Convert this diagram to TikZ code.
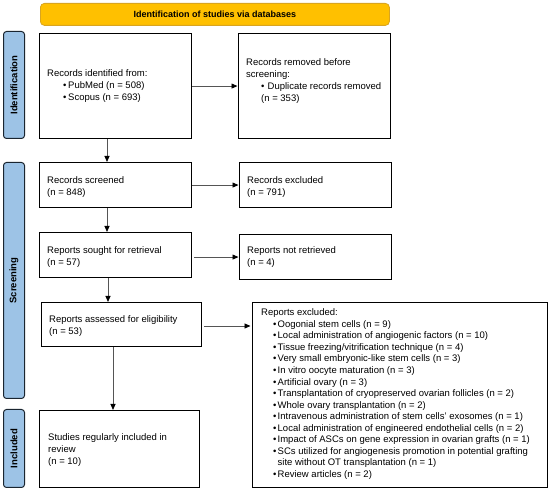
\documentclass[tikz,border=0pt]{standalone}
\usepackage{fontspec}
\setmainfont{Liberation Sans}
\usetikzlibrary{arrows.meta,calc}
\definecolor{bannerfill}{HTML}{FFC000}
\definecolor{bannerline}{HTML}{D9A520}
\definecolor{sidefill}{HTML}{9DC3E6}
\definecolor{sideline}{HTML}{1A2530}
\definecolor{arrline}{HTML}{555555}
\newcommand\bulitem[2]{\hspace*{#1}\makebox[#2][l]{•}}
\begin{document}
\begin{tikzpicture}[x=1pt,y=1pt,
  box/.style={draw=black, line width=1.1pt, anchor=north west, inner sep=0pt, fill=white},
  side/.style={draw=sideline, fill=sidefill, line width=1pt, rounded corners=3pt, anchor=north west, inner sep=0pt},
  sidetxt/.style={rotate=90, inner sep=0pt, font=\fontsize{9.5}{11}\selectfont\bfseries},
  txt/.style={anchor=north west, inner sep=0pt, align=left, font=\fontsize{9.5}{12}\selectfont},
  arr/.style={draw=arrline, line width=0.8pt, -{Triangle[length=6pt,width=5pt,color=black]}}
]
\useasboundingbox (0,0) rectangle (550,-489);

% banner
\node[draw=bannerline, fill=bannerfill, line width=0.8pt, rounded corners=4pt, anchor=north west,
  minimum width=349, minimum height=22, inner sep=0pt] (ban) at (40,-3) {};
\node[inner sep=0pt, font=\fontsize{9}{10}\selectfont\bfseries] (bant) at (ban.center) {Identification of studies via databases};

% side labels
\node[side, minimum width=21, minimum height=107] (s1) at (3,-31) {};
\node[sidetxt] (s1t) at (s1.center) {Identification};
\node[side, minimum width=21, minimum height=236] (s2) at (3,-162) {};
\node[sidetxt] (s2t) at (s2.center) {Screening};
\node[side, minimum width=21, minimum height=78] (s3) at (3,-409) {};
\node[sidetxt] (s3t) at (s3.center) {Included};

% boxes
\node[box, minimum width=152, minimum height=105] (b1) at (39,-33) {};
\node[box, minimum width=152, minimum height=105] (b2) at (238,-33) {};
\node[box, minimum width=152, minimum height=45] (b3) at (39,-162) {};
\node[box, minimum width=152, minimum height=45] (b4) at (239,-162) {};
\node[box, minimum width=152, minimum height=45] (b5) at (39,-232) {};
\node[box, minimum width=152, minimum height=45] (b6) at (239,-234) {};
\node[box, minimum width=160, minimum height=44] (b7) at (41,-302) {};
\node[box, minimum width=160, minimum height=77] (b8) at (39,-410) {};
\node[box, minimum width=295, minimum height=185] (b9) at (252,-302) {};

% texts
\node[txt] (t1) at (47,-69.5) {Records identified from:\\
\bulitem{16pt}{5pt}PubMed (n = 508)\\
\bulitem{16pt}{5pt}Scopus (n = 693)};
\node[txt] (t2) at (246,-58.5) {Records removed before\\
screening:\\
\bulitem{15pt}{6.5pt}Duplicate records removed\\
\hspace*{15pt}(n = 353)};
\node[txt, font=\fontsize{9.5}{11.5}\selectfont] (t3) at (47,-176.5) {Records screened\\(n = 848)};
\node[txt, font=\fontsize{9.5}{11.5}\selectfont] (t4) at (247,-176.5) {Records excluded\\(n = 791)};
\node[txt, font=\fontsize{9.5}{11.5}\selectfont] (t5) at (47,-246.5) {Reports sought for retrieval\\(n = 57)};
\node[txt, font=\fontsize{9.5}{11.5}\selectfont] (t6) at (247,-246.5) {Reports not retrieved\\(n = 4)};
\node[txt, font=\fontsize{9.5}{11.5}\selectfont] (t7) at (49,-315.5) {Reports assessed for eligibility\\(n = 53)};
\node[txt] (t8) at (48,-433.5) {Studies regularly included in\\review\\(n = 10)};
\node[txt, font=\fontsize{9.5}{11.57}\selectfont] (t9) at (261,-308.5) {Reports excluded:\\
\bulitem{12pt}{4.5pt}Oogonial stem cells (n = 9)\\
\bulitem{12pt}{4.5pt}Local administration of angiogenic factors (n = 10)\\
\bulitem{12pt}{4.5pt}Tissue freezing/vitrification technique (n = 4)\\
\bulitem{12pt}{4.5pt}Very small embryonic-like stem cells (n = 3)\\
\bulitem{12pt}{4.5pt}In vitro oocyte maturation (n = 3)\\
\bulitem{12pt}{4.5pt}Artificial ovary (n = 3)\\
\bulitem{12pt}{4.5pt}Transplantation of cryopreserved ovarian follicles (n = 2)\\
\bulitem{12pt}{4.5pt}Whole ovary transplantation (n = 2)\\
\bulitem{12pt}{4.5pt}Intravenous administration of stem cells’ exosomes (n = 1)\\
\bulitem{12pt}{4.5pt}Local administration of engineered endothelial cells (n = 2)\\
\bulitem{12pt}{4.5pt}Impact of ASCs on gene expression in ovarian grafts (n = 1)\\
\bulitem{12pt}{4.5pt}SCs utilized for angiogenesis promotion in potential grafting\\
\hspace*{16.5pt}site without OT transplantation (n = 1)\\
\bulitem{12pt}{4.5pt}Review articles (n = 2)};

% arrow x positions
\coordinate (ax1) at (107,0);
\coordinate (ax2) at (108,0);
\coordinate (ax3) at (113,0);
\coordinate (ay9) at (0,-326);

% arrows
\draw[arr, shorten >=0.5pt] (b1.east) -- (b2.west);
\draw[arr, shorten >=0.5pt] (b3.east) -- (b4.west);
\draw[arr, shorten <=2pt, shorten >=0.5pt] (b5.east |- b6.west) -- (b6.west);
\draw[arr, shorten <=2pt, shorten >=1.5pt] (b7.east |- ay9) -- (b9.west |- ay9);
\draw[arr] (b1.south -| ax1) -- (b3.north -| ax1);
\draw[arr] (b3.south -| ax1) -- (b5.north -| ax1);
\draw[arr] (b5.south -| ax2) -- (b7.north -| ax2);
\draw[arr] (b7.south -| ax3) -- (b8.north -| ax3);
\end{tikzpicture}
\end{document}
